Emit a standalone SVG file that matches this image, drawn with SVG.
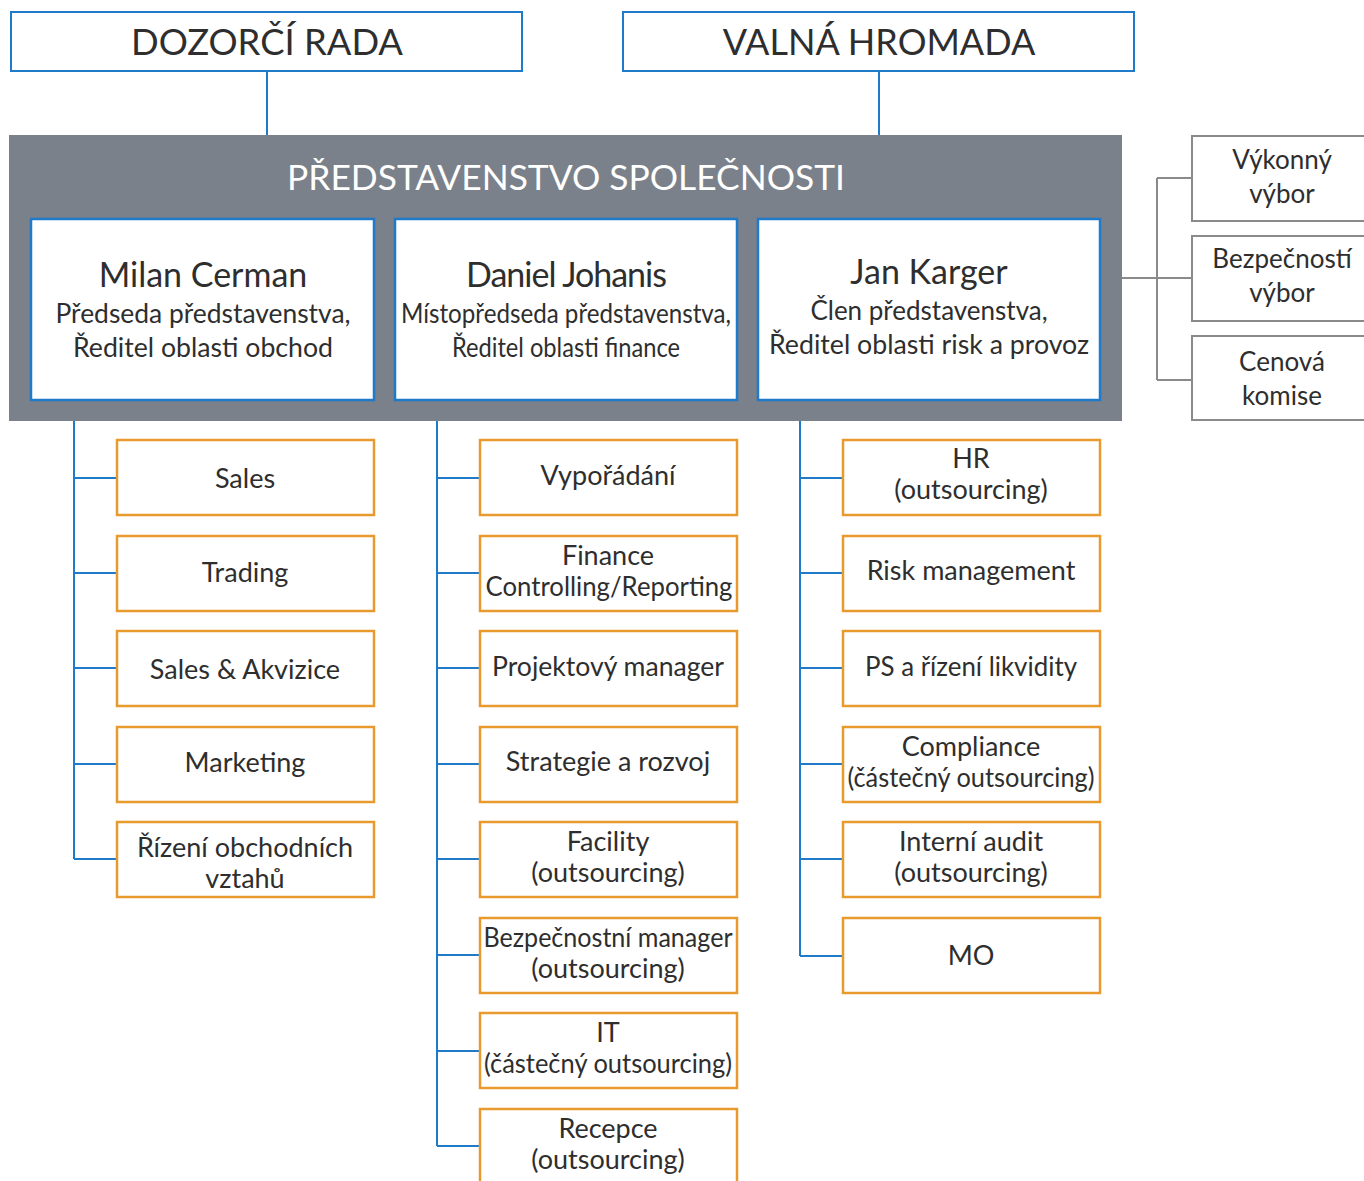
<svg xmlns="http://www.w3.org/2000/svg" width="1364" height="1181" viewBox="0 0 1364 1181">
<style>
text{font-family:Lato,"Open Sans","Liberation Sans",sans-serif;fill:#2e2e2e;text-anchor:middle}
.top{fill:#fff;stroke:#1f7ac9;stroke-width:2}
.mgr{fill:#fff;stroke:#1f7ac9;stroke-width:2.5}
.unit{fill:#fff;stroke:#e99a2c;stroke-width:2.5}
.com{fill:#fff;stroke:#8a8a8a;stroke-width:2}
.t36{font-size:36px}
.t34{font-size:34px}
.t26{font-size:26px}
.t27{font-size:27px}
.blue{stroke:#1f7ac9;stroke-width:2;fill:none}
.gray{stroke:#8a8a8a;stroke-width:2;fill:none}
</style>
<g id="connectors">
<path class="blue" d="M267 71V135M879 71V135"/>
<path class="blue" d="M74 400V859M74 478H117M74 573H117M74 668H117M74 764H117M74 859H117"/>
<path class="blue" d="M437 400V1146M437 478H480M437 573H480M437 668H480M437 764H480M437 859H480M437 955H480M437 1051H480M437 1146H480"/>
<path class="blue" d="M800 400V956M800 478H843M800 573H843M800 668H843M800 764H843M800 859H843M800 956H843"/>
<path class="gray" d="M1122 278H1192M1157 178V380M1157 178H1192M1157 380H1192"/>
</g>
<g id="dozorci-rada"><rect class="top" x="11" y="12" width="511" height="59"/><text class="t36" x="267" y="55" textLength="272" lengthAdjust="spacingAndGlyphs">DOZORČÍ RADA</text></g>
<g id="valna-hromada"><rect class="top" x="623" y="12" width="511" height="59"/><text class="t36" x="879" y="55">VALNÁ HROMADA</text></g>
<g id="predstavenstvo"><rect x="9" y="135" width="1113" height="286" fill="#7b818a"/><text class="t34" x="566" y="190" style="fill:#fff" textLength="558" lengthAdjust="spacingAndGlyphs">PŘEDSTAVENSTVO SPOLEČNOSTI</text></g>
<g id="cerman"><rect class="mgr" x="31" y="219" width="343" height="181"/><text class="t34" x="203" y="287">Milan Cerman</text><text class="t26" x="203" y="323" textLength="295" lengthAdjust="spacingAndGlyphs">Předseda představenstva,</text><text class="t26" x="203" y="357" textLength="260" lengthAdjust="spacingAndGlyphs">Ředitel oblasti obchod</text></g>
<g id="johanis"><rect class="mgr" x="395" y="219" width="342" height="181"/><text class="t34" x="566" y="287" letter-spacing="-1">Daniel Johanis</text><text class="t26" x="566" y="323" textLength="330" lengthAdjust="spacingAndGlyphs">Místopředseda představenstva,</text><text class="t26" x="566" y="357" textLength="228" lengthAdjust="spacingAndGlyphs">Ředitel oblasti finance</text></g>
<g id="karger"><rect class="mgr" x="758" y="219" width="342" height="181"/><text class="t34" x="929" y="284">Jan Karger</text><text class="t26" x="929" y="320">Člen představenstva,</text><text class="t26" x="929" y="354" textLength="320" lengthAdjust="spacingAndGlyphs">Ředitel oblasti risk a provoz</text></g>
<g id="vykonny-vybor"><rect class="com" x="1192" y="136" width="180" height="85"/><text class="t26" x="1282" y="169">Výkonný</text><text class="t26" x="1282" y="203">výbor</text></g>
<g id="bezpecnosti-vybor"><rect class="com" x="1192" y="236" width="180" height="85"/><text class="t26" x="1282" y="268">Bezpečností</text><text class="t26" x="1282" y="302">výbor</text></g>
<g id="cenova-komise"><rect class="com" x="1192" y="336" width="180" height="84"/><text class="t26" x="1282" y="371">Cenová</text><text class="t26" x="1282" y="405">komise</text></g>
<g id="sales"><rect class="unit" x="117" y="440" width="257" height="75"/><text class="t27" x="245" y="488">Sales</text></g>
<g id="trading"><rect class="unit" x="117" y="536" width="257" height="75"/><text class="t27" x="245" y="582">Trading</text></g>
<g id="sales-akvizice"><rect class="unit" x="117" y="631" width="257" height="75"/><text class="t27" x="245" y="679">Sales &amp; Akvizice</text></g>
<g id="marketing"><rect class="unit" x="117" y="727" width="257" height="75"/><text class="t27" x="245" y="772">Marketing</text></g>
<g id="rizeni-vztahu"><rect class="unit" x="117" y="822" width="257" height="75"/><text class="t27" x="245" y="857">Řízení obchodních</text><text class="t27" x="245" y="888">vztahů</text></g>
<g id="vyporadani"><rect class="unit" x="480" y="440" width="257" height="75"/><text class="t27" x="608" y="485">Vypořádání</text></g>
<g id="finance"><rect class="unit" x="480" y="536" width="257" height="75"/><text class="t27" x="608" y="565">Finance</text><text class="t27" x="609" y="596" textLength="247" lengthAdjust="spacingAndGlyphs">Controlling/Reporting</text></g>
<g id="projektovy-manager"><rect class="unit" x="480" y="631" width="257" height="75"/><text class="t27" x="608" y="676" textLength="232" lengthAdjust="spacingAndGlyphs">Projektový manager</text></g>
<g id="strategie"><rect class="unit" x="480" y="727" width="257" height="75"/><text class="t27" x="608" y="771">Strategie a rozvoj</text></g>
<g id="facility"><rect class="unit" x="480" y="822" width="257" height="75"/><text class="t27" x="608" y="851">Facility</text><text class="t27" x="608" y="882">(outsourcing)</text></g>
<g id="bezpecnostni-manager"><rect class="unit" x="480" y="918" width="257" height="75"/><text class="t27" x="608" y="947" textLength="249" lengthAdjust="spacingAndGlyphs">Bezpečnostní manager</text><text class="t27" x="608" y="978">(outsourcing)</text></g>
<g id="it"><rect class="unit" x="480" y="1013" width="257" height="75"/><text class="t27" x="608" y="1042">IT</text><text class="t27" x="608" y="1073" textLength="248" lengthAdjust="spacingAndGlyphs">(částečný outsourcing)</text></g>
<g id="recepce"><rect class="unit" x="480" y="1109" width="257" height="80"/><text class="t27" x="608" y="1138">Recepce</text><text class="t27" x="608" y="1169">(outsourcing)</text></g>
<g id="hr"><rect class="unit" x="843" y="440" width="257" height="75"/><text class="t27" x="971" y="468">HR</text><text class="t27" x="971" y="499">(outsourcing)</text></g>
<g id="risk-management"><rect class="unit" x="843" y="536" width="257" height="75"/><text class="t27" x="971" y="580">Risk management</text></g>
<g id="ps-likvidita"><rect class="unit" x="843" y="631" width="257" height="75"/><text class="t27" x="971" y="676" textLength="212" lengthAdjust="spacingAndGlyphs">PS a řízení likvidity</text></g>
<g id="compliance"><rect class="unit" x="843" y="727" width="257" height="75"/><text class="t27" x="971" y="756">Compliance</text><text class="t27" x="971" y="787" textLength="247" lengthAdjust="spacingAndGlyphs">(částečný outsourcing)</text></g>
<g id="interni-audit"><rect class="unit" x="843" y="822" width="257" height="75"/><text class="t27" x="971" y="851">Interní audit</text><text class="t27" x="971" y="882">(outsourcing)</text></g>
<g id="mo"><rect class="unit" x="843" y="918" width="257" height="75"/><text class="t27" x="971" y="965">MO</text></g>
</svg>
